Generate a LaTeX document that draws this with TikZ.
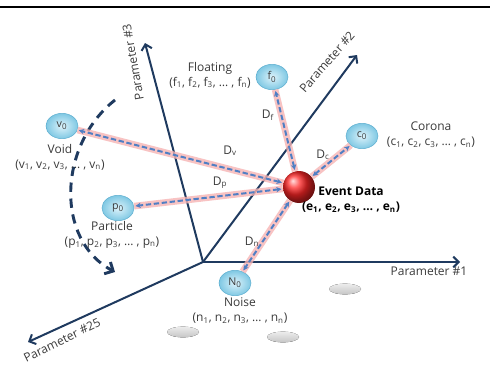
\documentclass[tikz,border=0pt]{standalone}
\usepackage{fontspec}
\setmainfont{Open Sans}
\usetikzlibrary{arrows.meta,shapes.geometric}
\definecolor{navy}{HTML}{1F3A5F}
\definecolor{skyin}{HTML}{DDF3FB}
\definecolor{skyout}{HTML}{7FC8E3}
\definecolor{skyline}{HTML}{5FAFD0}
\definecolor{blush}{HTML}{F6B4B4}
\definecolor{linkblue}{HTML}{4F7FC4}
\definecolor{ink}{HTML}{3A3A3A}

\begin{document}
\begin{tikzpicture}[x=0.75pt,y=-0.75pt,
  axis/.style={navy,line width=1.5pt,-{Straight Barb[length=4pt,width=8pt]}},
  blob/.style={ellipse,draw=skyline,inner color=skyin,outer color=skyout,minimum width=24pt,minimum height=19pt,inner sep=0pt,text=ink,font=\fontsize{8}{9}\selectfont},
  lbl/.style={align=center,text=ink,font=\fontsize{9}{11.3}\selectfont},
  halo/.style={blush,line width=5pt,opacity=0.8},
  link/.style={linkblue,line width=1.5pt,dash pattern=on 4pt off 2pt,{Stealth[length=4pt,width=4pt]}-{Stealth[length=4pt,width=4pt]},shorten <=1pt,shorten >=1pt},
  sweep/.style={navy,line width=2.2pt,dash pattern=on 7pt off 5pt,-{Straight Barb[length=5pt,width=10pt]}},
  spot/.style={top color=gray!15,bottom color=gray!45,draw=none}]
\useasboundingbox (0,0) rectangle (490,371);
\draw[line width=1pt] (0,7) -- (490,7);

\coordinate (o) at (203,262);
\coordinate (ax1) at (460,262);
\coordinate (ax2) at (357,55);
\coordinate (ax3) at (145,43);
\coordinate (ax25) at (28,342);
\draw[axis] (o) -- (ax1);
\draw[axis] (o) -- (ax2);
\draw[axis] (o) -- (ax3);
\draw[axis] (o) -- (ax25);
\node[lbl] at (429,271) {Parameter \#1};
\node[lbl,rotate=49] at (327,62) {Parameter \#2};
\node[lbl,rotate=100] at (133,62) {Parameter \#3};
\node[lbl,rotate=26] at (62,340) {Parameter \#25};

\fill[spot] (345,289) ellipse [x radius=12pt,y radius=4pt];
\fill[spot] (283,337) ellipse [x radius=12pt,y radius=4pt];
\fill[spot] (183,332) ellipse [x radius=12pt,y radius=4pt];

\coordinate (arcstart) at (115,100);
\coordinate (arcend) at (115,272);
\draw[sweep] (arcstart) .. controls (58,145) and (55,240) .. (arcend);

\node[circle,ball color=red!85,minimum size=24pt,inner sep=0pt] (ev) at (299,187) {};
\node[blob] (f0) at (272,77) {f\textsubscript{0}};
\node[blob] (c0) at (362,136) {c\textsubscript{0}};
\node[blob] (v0) at (62,126) {v\textsubscript{0}};
\node[blob] (p0) at (118,208) {p\textsubscript{0}};
\node[blob] (n0) at (235,283) {N\textsubscript{0}};

\foreach \n in {f0,c0,v0,p0,n0}{
  \draw[halo] (ev) -- (\n);
  \draw[link] (ev) -- (\n);
}

\node[lbl] at (210,75) {Floating\\(f\textsubscript{1}, f\textsubscript{2}, f\textsubscript{3}, \dots\ , f\textsubscript{n})};
\node[lbl] at (431,135) {Corona\\(c\textsubscript{1}, c\textsubscript{2}, c\textsubscript{3}, \dots\ , c\textsubscript{n})};
\node[lbl] at (60,157) {Void\\(v\textsubscript{1}, v\textsubscript{2}, v\textsubscript{3}, \dots\ , v\textsubscript{n})};
\node[lbl] at (112,235) {Particle\\(p\textsubscript{1}, p\textsubscript{2}, p\textsubscript{3}, \dots\ , p\textsubscript{n})};
\node[lbl] at (240,311) {Noise\\(n\textsubscript{1}, n\textsubscript{2}, n\textsubscript{3}, \dots\ , n\textsubscript{n})};
\node[lbl,font=\fontsize{9}{11.3}\selectfont\bfseries,text=black] at (351,200) {Event Data\\(e\textsubscript{1}, e\textsubscript{2}, e\textsubscript{3}, \dots\ , e\textsubscript{n})};

\node[lbl] at (230,151) {D\textsubscript{v}};
\node[lbl] at (220,183) {D\textsubscript{p}};
\node[lbl] at (323,155) {D\textsubscript{c}};
\node[lbl] at (268,115) {D\textsubscript{f}};
\node[lbl] at (252,242) {D\textsubscript{n}};
\end{tikzpicture}
\end{document}
